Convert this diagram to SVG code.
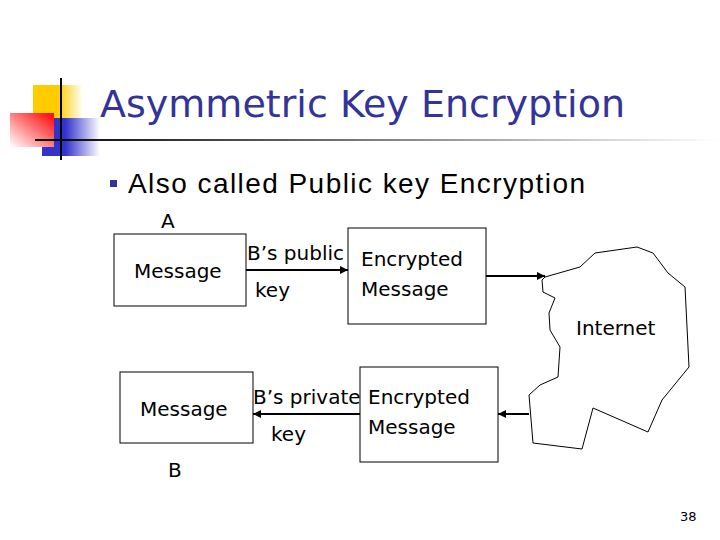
<svg xmlns="http://www.w3.org/2000/svg" width="720" height="540" viewBox="0 0 720 540">
<defs>
<linearGradient id="hl" x1="0" x2="1"><stop offset="0" stop-color="#000"/><stop offset="1" stop-color="#fff"/></linearGradient>
<linearGradient id="yel" x1="0" x2="1"><stop offset="0.5" stop-color="#ffcc00"/><stop offset="1" stop-color="#fff"/></linearGradient>
<linearGradient id="blu" x1="0" x2="1"><stop offset="0.4" stop-color="#3333cc"/><stop offset="1" stop-color="#fff"/></linearGradient>
<linearGradient id="red" x1="1" x2="0" y1="0" y2="1"><stop offset="0" stop-color="#ff0000"/><stop offset="1" stop-color="#fff"/></linearGradient>
<marker id="ar" viewBox="0 0 10 10" refX="10" refY="5" markerWidth="4" markerHeight="4" orient="auto"><path d="M0,0L10,5L0,10z" fill="#000"/></marker>
</defs>
<style>
text{font-family:"DejaVu Sans","Liberation Sans",sans-serif;fill:#000}
.b{fill:#fff;stroke:#000;stroke-width:1}
.t{font-size:20px}
.c{stroke:#000;stroke-width:2;fill:none;marker-end:url(#ar)}
</style>
<rect width="720" height="540" fill="#fff"/>
<g id="logo">
<rect x="33" y="85" width="50" height="45" fill="url(#yel)"/>
<rect x="42" y="118" width="58" height="38" fill="url(#blu)"/>
<rect x="10" y="113" width="44" height="34" fill="url(#red)"/>
<line x1="61" y1="78" x2="61" y2="160" stroke="#000" stroke-width="2"/>
<rect x="35" y="139" width="685" height="2" fill="url(#hl)"/>
</g>
<text x="100" y="117" font-size="38" style="fill:#333399;font-family:'DejaVu Sans',sans-serif" textLength="525">Asymmetric Key Encryption</text>
<rect x="110" y="180" width="7" height="7" fill="#333399"/>
<text x="128" y="193" font-size="28" style="font-family:'Liberation Sans',Arial,sans-serif" textLength="457">Also called Public key Encryption</text>
<text x="161" y="228" class="t">A</text>
<text x="168" y="477" class="t">B</text>
<g id="msgA"><rect class="b" x="114" y="234" width="132" height="72"/><text x="134" y="278" class="t">Message</text></g>
<g id="encA"><rect class="b" x="348" y="228" width="138" height="96"/><text x="361" y="266" class="t">Encrypted</text><text x="361" y="296" class="t">Message</text></g>
<g id="msgB"><rect class="b" x="120" y="372" width="133" height="71"/><text x="140" y="416" class="t">Message</text></g>
<g id="encB"><rect class="b" x="360" y="367" width="138" height="95"/><text x="368" y="404" class="t">Encrypted</text><text x="368" y="434" class="t">Message</text></g>
<g id="internet"><path class="b" d="M545,277 L580,267 L595,253 L637,247 L653,253 L668,273 L685,287 L689,367 L662,400 L648,432 L593,408 L582,449 L533,443 L529,395 L540,385 L558,377 L560,347 L550,330 L549,313 L555,298 L543,292 L542,280 Z"/><text x="576" y="335" class="t">Internet</text></g>
<g id="connectors">
<line class="c" x1="246" y1="270" x2="348" y2="270"/>
<line class="c" x1="486" y1="276" x2="545" y2="276"/>
<line class="c" x1="529" y1="414" x2="498" y2="414"/>
<line class="c" x1="360" y1="414" x2="253" y2="414"/>
</g>
<text x="247" y="260" class="t">B’s public</text>
<text x="255" y="297" class="t">key</text>
<text x="253" y="404" class="t">B’s private</text>
<text x="271" y="441" class="t">key</text>
<text x="680" y="521" font-size="13">38</text>
</svg>
